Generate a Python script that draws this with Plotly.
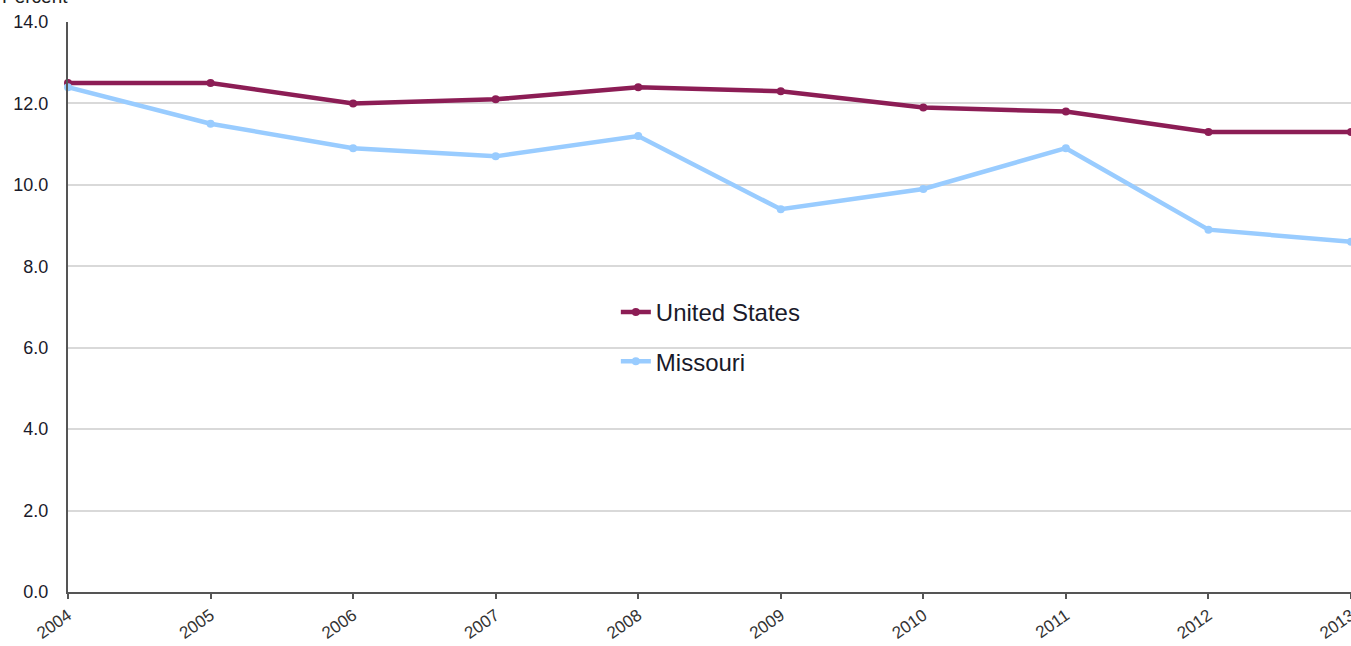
import plotly.graph_objects as go

years = [2004, 2005, 2006, 2007, 2008, 2009, 2010, 2011, 2012, 2013]
us_values = [12.5, 12.5, 12.0, 12.1, 12.4, 12.3, 11.9, 11.8, 11.3, 11.3]
mo_values = [12.4, 11.5, 10.9, 10.7, 11.2, 9.4, 9.9, 10.9, 8.9, 8.6]
y_ticks = [0, 2, 4, 6, 8, 10, 12, 14]
y_tick_labels = ["0.0", "2.0", "4.0", "6.0", "8.0", "10.0", "12.0", "14.0"]

fig = go.Figure()
fig.add_trace(go.Scatter(
    x=years, y=us_values, name="United States", mode="lines+markers",
    line=dict(color="#8C1D55", width=4.5), marker=dict(size=8, color="#8C1D55"),
    legendgroup="us", cliponaxis=False,
))
fig.add_trace(go.Scatter(
    x=years, y=mo_values, name="Missouri", mode="lines+markers",
    line=dict(color="#99CCFF", width=4.5), marker=dict(size=8, color="#99CCFF"),
    legendgroup="mo", cliponaxis=False,
))

fig.update_layout(
    width=1351, height=646,
    margin=dict(l=68, r=0, t=22, b=54, autoexpand=False),
    paper_bgcolor="white", plot_bgcolor="white",
    font=dict(family="Liberation Sans, Arial, sans-serif", color="#222222"),
    showlegend=True,
    legend=dict(
        x=0.427, y=0.53, xanchor="left", yanchor="top",
        font=dict(size=24, color="#1a1a2a"),
        bgcolor="rgba(0,0,0,0)", traceorder="grouped", tracegroupgap=15,
    ),
    xaxis=dict(
        range=[2004, 2013], tickmode="array", tickvals=years,
        ticktext=[str(y) for y in years], tickangle=-35,
        showline=True, linecolor="#555555", linewidth=2,
        ticks="outside", ticklen=5, tickcolor="#555555", tickwidth=2,
        showgrid=False, zeroline=False, automargin=False,
        ticklabeloverflow="allow",
        tickfont=dict(size=17, color="#333333"),
    ),
    yaxis=dict(
        range=[0, 14], tickmode="array", tickvals=y_ticks, ticktext=y_tick_labels,
        showline=True, linecolor="#555555", linewidth=2,
        showgrid=True, gridcolor="#D9D9D9", gridwidth=2,
        zeroline=False, ticks="", automargin=False,
        ticklabelstandoff=14,
        tickfont=dict(size=18, color="#1a1a2a"),
    ),
    annotations=[dict(
        text="Percent", xref="paper", yref="paper", x=-0.053, y=1.0 + 13 / 570,
        xanchor="left", yanchor="bottom", showarrow=False,
        font=dict(size=19, color="#222222"),
    )],
)

fig.write_html("out.html", config={"displayModeBar": False},
               post_script="document.body.style.margin='0';")
